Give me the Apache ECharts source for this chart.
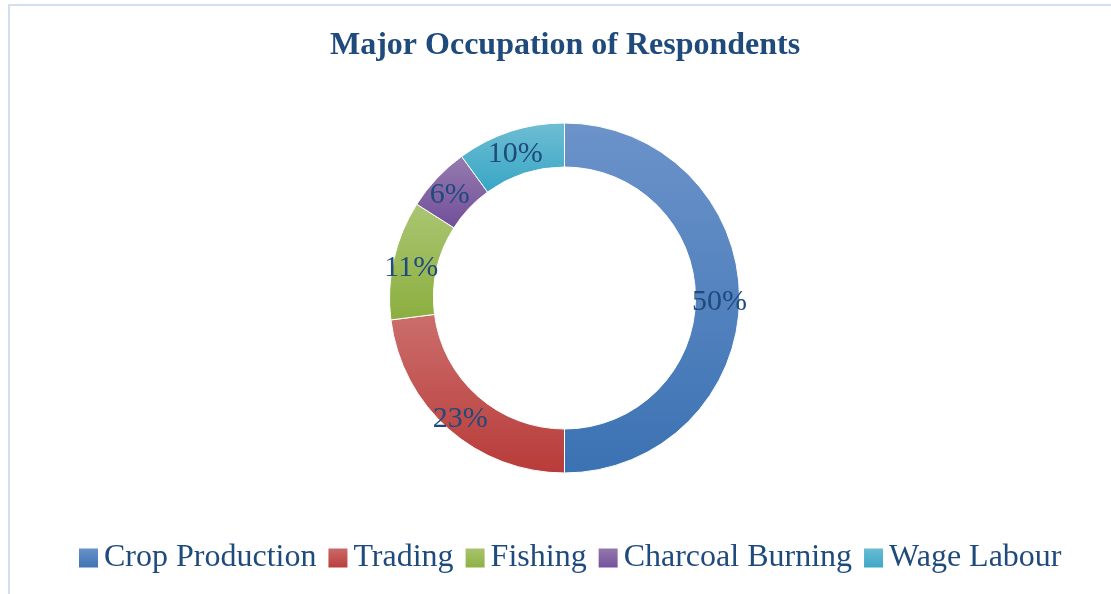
<!DOCTYPE html>
<html>
<head>
<meta charset="utf-8">
<script src="https://cdn.jsdelivr.net/npm/echarts@6/dist/echarts.min.js"></script>
<style>
  html, body { margin: 0; padding: 0; background: #fff; }
  #chart { width: 1111px; height: 594px; }
</style>
</head>
<body>
<div id="chart"></div>
<script>
// data
const categories = ['Crop Production', 'Trading', 'Fishing', 'Charcoal Burning', 'Wage Labour'];
const shares = [50, 23, 11, 6, 10];
// gradient top / bottom colour per slice
const colorTop = ['#6c93ca', '#cb6e6c', '#aac672', '#967cae', '#6fbdd4'];
const colorBottom = ['#3b72b3', '#b83b39', '#8cae3f', '#724e9a', '#37a6c4'];

const FONT = "'Liberation Serif', 'Times New Roman', serif";
const TEXT_COLOR = '#1f4a7c';

function grad(i) {
  return new echarts.graphic.LinearGradient(0, 0, 0, 1, [
    { offset: 0, color: colorTop[i] },
    { offset: 1, color: colorBottom[i] }
  ]);
}

const chart = echarts.init(document.getElementById('chart'));
chart.setOption({
  backgroundColor: '#ffffff',
  animation: false,
  title: {
    text: 'Major Occupation of Respondents',
    left: 330,
    top: 30,
    padding: 0,
    textStyle: { fontFamily: FONT, fontSize: 32, fontWeight: 'bold', color: TEXT_COLOR }
  },
  graphic: [{
    // light frame round the chart area
    type: 'rect',
    shape: { x: 9, y: 5, width: 1300, height: 800 },
    style: { fill: 'none', stroke: '#d3dff1', lineWidth: 2 },
    silent: true
  }],
  legend: {
    data: categories,
    left: 72,
    top: 537,
    itemWidth: 21,
    itemHeight: 21,
    itemGap: 10,
    icon: 'rect',
    textStyle: { fontFamily: FONT, fontSize: 32, color: TEXT_COLOR }
  },
  series: [{
    type: 'pie',
    center: [564.5, 298],
    radius: [131, 175],
    startAngle: 90,
    clockwise: true,
    avoidLabelOverlap: false,
    itemStyle: { borderColor: '#ffffff', borderWidth: 1 },
    label: {
      show: true,
      position: 'inside',
      formatter: '{c}%',
      fontFamily: FONT,
      fontSize: 30,
      color: TEXT_COLOR,
      offset: [-1, 4]
    },
    labelLine: { show: false },
    emphasis: { disabled: true },
    data: categories.map((name, i) => ({
      name: name,
      value: shares[i],
      itemStyle: { color: grad(i) }
    }))
  }]
});
</script>
</body>
</html>
